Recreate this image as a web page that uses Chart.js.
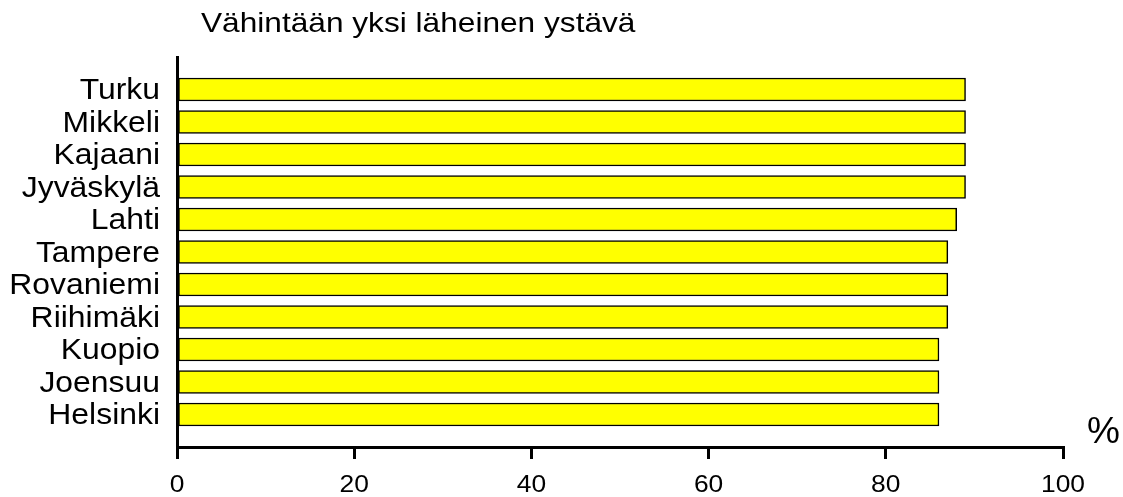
<!DOCTYPE html>
<html>
<head>
<meta charset="utf-8">
<script src="https://cdn.jsdelivr.net/npm/chart.js@4/dist/chart.umd.min.js"></script>
<style>
html,body{margin:0;padding:0;background:#fff;}
#wrap{width:1123px;height:497px;position:relative;}
</style>
</head>
<body>
<div id="wrap"><canvas id="c" width="1123" height="497"></canvas></div>
<script>
const titleText = 'Vähintään yksi läheinen ystävä';
const unitLabel = '%';
const cities = ['Turku','Mikkeli','Kajaani','Jyväskylä','Lahti','Tampere','Rovaniemi','Riihimäki','Kuopio','Joensuu','Helsinki'];
const values = [89, 89, 89, 89, 88, 87, 87, 87, 86, 86, 86];
const xTicks = [0, 20, 40, 60, 80, 100];

const FONT = "'Liberation Sans', Arial, sans-serif";
const STRETCH = 1.1;

function stretchedText(ctx, text, x, y, align, size, sx) {
  ctx.save();
  ctx.font = size + "px " + FONT;
  ctx.textAlign = align;
  ctx.textBaseline = 'alphabetic';
  ctx.fillStyle = '#000';
  ctx.translate(x, y);
  ctx.scale(sx, 1);
  ctx.fillText(text, 0, 0);
  ctx.restore();
}

const extras = {
  id: 'extras',
  afterDraw(chart) {
    const ctx = chart.ctx;
    const xs = chart.scales.x, ys = chart.scales.y;
    stretchedText(ctx, titleText, 201, 32, 'left', 28, 1.13);
    stretchedText(ctx, unitLabel, 1087, 443, 'left', 37, 1.0);
    xTicks.forEach(v => {
      stretchedText(ctx, String(v), xs.getPixelForValue(v), 492, 'center', 24, STRETCH);
    });
    cities.forEach((c, i) => {
      stretchedText(ctx, c, 160, ys.getPixelForValue(i) + 9.5, 'right', 29, STRETCH);
    });
  }
};

new Chart(document.getElementById('c'), {
  type: 'bar',
  data: {
    datasets: [{
      data: values.map((v, i) => ({x: v, y: i})),
      backgroundColor: '#ffff00',
      borderColor: '#000000',
      borderWidth: 1.5,
      borderSkipped: false,
      barThickness: 23
    }]
  },
  options: {
    indexAxis: 'y',
    responsive: false,
    animation: false,
    layout: {padding: {top: 57, right: 60, bottom: 0, left: 0}},
    plugins: {legend: {display: false}, tooltip: {enabled: false}, title: {display: false}},
    scales: {
      x: {
        type: 'linear',
        min: 0, max: 100,
        afterBuildTicks(scale) { scale.ticks = xTicks.map(v => ({value: v})); },
        afterFit(scale) { scale.height = 50; },
        border: {display: true, color: '#000', width: 3},
        grid: {display: true, drawOnChartArea: false, drawTicks: true, tickLength: 12, color: '#000', lineWidth: 3},
        ticks: {display: false}
      },
      y: {
        type: 'linear',
        reverse: true,
        offset: false,
        min: -1, max: 11,
        afterBuildTicks(scale) { scale.ticks = cities.map((c, i) => ({value: i})); },
        afterFit(scale) { scale.width = 177; },
        border: {display: true, color: '#000', width: 3},
        grid: {display: false, drawTicks: false},
        ticks: {display: false}
      }
    }
  },
  plugins: [extras]
});
</script>
</body>
</html>
